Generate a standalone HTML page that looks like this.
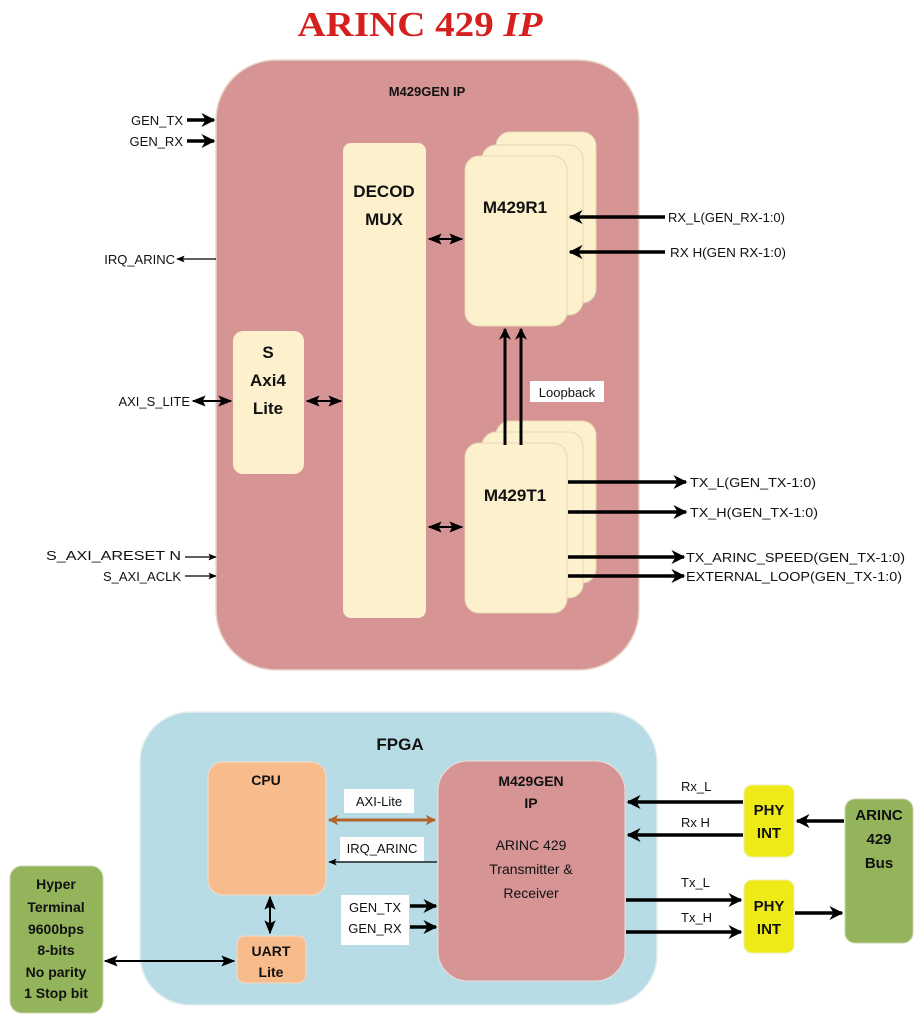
<!DOCTYPE html>
<html><head><meta charset="utf-8"><style>
html,body{margin:0;padding:0;background:#fff;width:924px;height:1024px;overflow:hidden}
svg{display:block}
text{font-family:"Liberation Sans",sans-serif;fill:#111}
.b{font-weight:bold}
</style></head><body>
<svg width="924" height="1024" viewBox="0 0 924 1024" xmlns="http://www.w3.org/2000/svg">
<defs>
<marker id="ah" viewBox="0 0 10 10" refX="9" refY="5" markerWidth="4" markerHeight="4" orient="auto-start-reverse"><path d="M0,0 L10,5 L0,10 L3,5z" fill="#000"/></marker>
<marker id="ahs" viewBox="0 0 10 10" refX="9" refY="5" markerWidth="7" markerHeight="7" orient="auto-start-reverse"><path d="M0,1 L10,5 L0,9 L2,5z" fill="#000"/></marker>
<marker id="aho" viewBox="0 0 10 10" refX="9" refY="5" markerWidth="3.5" markerHeight="3.5" orient="auto-start-reverse"><path d="M0,0 L10,5 L0,10 L3,5z" fill="#b0622a"/></marker>
</defs>

<text x="420" y="36" text-anchor="middle" style="font-family:'Liberation Serif',serif;font-weight:bold;font-size:35px;fill:#d61f1f" textLength="245" lengthAdjust="spacingAndGlyphs">ARINC 429 <tspan font-style="italic">IP</tspan></text>

<!-- top pink box -->
<rect x="216" y="60" width="423" height="610" rx="60" fill="#d69494" stroke="#e8d8c8" stroke-width="1.5"/>
<text x="427" y="96" class="b" font-size="13" text-anchor="middle">M429GEN  IP</text>

<rect x="343" y="143" width="83" height="475" rx="8" fill="#fdf0cd"/>
<text x="384" y="197" class="b" font-size="17" text-anchor="middle">DECOD</text>
<text x="384" y="225" class="b" font-size="17" text-anchor="middle">MUX</text>

<rect x="496" y="132" width="100" height="171" rx="14" fill="#fdf0cd" stroke="#e6d8b5"/>
<rect x="482" y="145" width="101" height="170" rx="14" fill="#fdf0cd" stroke="#e6d8b5"/>
<rect x="465" y="156" width="102" height="170" rx="14" fill="#fdf0cd" stroke="#e6d8b5"/>
<text x="515" y="213" class="b" font-size="17" text-anchor="middle">M429R1</text>

<rect x="496" y="421" width="100" height="162" rx="14" fill="#fdf0cd" stroke="#e6d8b5"/>
<rect x="482" y="432" width="101" height="166" rx="14" fill="#fdf0cd" stroke="#e6d8b5"/>
<rect x="465" y="443" width="102" height="170" rx="14" fill="#fdf0cd" stroke="#e6d8b5"/>
<text x="515" y="501" class="b" font-size="17" text-anchor="middle">M429T1</text>

<rect x="233" y="331" width="71" height="143" rx="10" fill="#fdf0cd"/>
<text x="268" y="358" class="b" font-size="17" text-anchor="middle">S</text>
<text x="268" y="386" class="b" font-size="17" text-anchor="middle">Axi4</text>
<text x="268" y="414" class="b" font-size="17" text-anchor="middle">Lite</text>

<!-- loopback -->
<line x1="505" y1="445" x2="505" y2="329" stroke="#000" stroke-width="3" marker-end="url(#ah)"/>
<line x1="521" y1="445" x2="521" y2="329" stroke="#000" stroke-width="3" marker-end="url(#ah)"/>
<rect x="530" y="381" width="74" height="21" fill="#fff"/>
<text x="567" y="397" font-size="13" text-anchor="middle">Loopback</text>

<!-- internal bidir -->
<g stroke="#000" stroke-width="2" fill="none">
<line x1="429" y1="239" x2="462" y2="239" marker-start="url(#ahs)" marker-end="url(#ahs)"/>
<line x1="429" y1="527" x2="462" y2="527" marker-start="url(#ahs)" marker-end="url(#ahs)"/>
<line x1="307" y1="401" x2="341" y2="401" marker-start="url(#ahs)" marker-end="url(#ahs)"/>
<line x1="193" y1="401" x2="231" y2="401" marker-start="url(#ahs)" marker-end="url(#ahs)"/>
<line x1="216" y1="259" x2="177" y2="259" stroke-width="1.2" marker-end="url(#ahs)"/>
<line x1="185" y1="557" x2="216" y2="557" stroke-width="1.2" marker-end="url(#ahs)"/>
<line x1="185" y1="576" x2="216" y2="576" stroke-width="1.2" marker-end="url(#ahs)"/>
</g>
<g stroke="#000" stroke-width="3.5" fill="none">
<line x1="187" y1="120" x2="214" y2="120" marker-end="url(#ah)"/>
<line x1="187" y1="141" x2="214" y2="141" marker-end="url(#ah)"/>
<line x1="665" y1="217" x2="570" y2="217" marker-end="url(#ah)"/>
<line x1="665" y1="252" x2="570" y2="252" marker-end="url(#ah)"/>
<line x1="568" y1="482" x2="686" y2="482" marker-end="url(#ah)"/>
<line x1="568" y1="512" x2="686" y2="512" marker-end="url(#ah)"/>
<line x1="568" y1="557" x2="684" y2="557" marker-end="url(#ah)"/>
<line x1="568" y1="576" x2="684" y2="576" marker-end="url(#ah)"/>
</g>

<g font-size="13">
<text x="183" y="125" text-anchor="end">GEN_TX</text>
<text x="183" y="146" text-anchor="end">GEN_RX</text>
<text x="175" y="264" text-anchor="end">IRQ_ARINC</text>
<text x="190" y="406" text-anchor="end">AXI_S_LITE</text>
<text x="181" y="560" text-anchor="end" textLength="135" lengthAdjust="spacingAndGlyphs">S_AXI_ARESET N</text>
<text x="181" y="581" text-anchor="end">S_AXI_ACLK</text>
<text x="668" y="222" textLength="117" lengthAdjust="spacingAndGlyphs">RX_L(GEN_RX-1:0)</text>
<text x="670" y="257" textLength="116" lengthAdjust="spacingAndGlyphs">RX  H(GEN  RX-1:0)</text>
<text x="690" y="487" textLength="126" lengthAdjust="spacingAndGlyphs">TX_L(GEN_TX-1:0)</text>
<text x="690" y="517" textLength="128" lengthAdjust="spacingAndGlyphs">TX_H(GEN_TX-1:0)</text>
<text x="686" y="562" textLength="219" lengthAdjust="spacingAndGlyphs">TX_ARINC_SPEED(GEN_TX-1:0)</text>
<text x="686" y="581" textLength="216" lengthAdjust="spacingAndGlyphs">EXTERNAL_LOOP(GEN_TX-1:0)</text>
</g>

<!-- bottom -->
<rect x="140" y="712" width="517" height="293" rx="50" fill="#b7dce6" stroke="#e4eef0" stroke-width="1.5"/>
<text x="400" y="750" class="b" font-size="17" text-anchor="middle">FPGA</text>

<rect x="208" y="762" width="118" height="133" rx="15" fill="#f7bb8c" stroke="#f3dccb"/>
<text x="266" y="785" class="b" font-size="14" text-anchor="middle">CPU</text>

<rect x="438" y="761" width="187" height="220" rx="30" fill="#d69494" stroke="#eedede"/>
<g font-size="14" text-anchor="middle">
<text x="531" y="786" class="b">M429GEN</text>
<text x="531" y="808" class="b">IP</text>
<text x="531" y="850">ARINC 429</text>
<text x="531" y="874">Transmitter &amp;</text>
<text x="531" y="898">Receiver</text>
</g>

<rect x="344" y="789" width="70" height="24" fill="#fff"/>
<text x="379" y="806" font-size="13" text-anchor="middle">AXI-Lite</text>
<line x1="329" y1="820" x2="435" y2="820" stroke="#b0622a" stroke-width="3" marker-start="url(#aho)" marker-end="url(#aho)"/>
<rect x="340" y="837" width="84" height="24" fill="#fff"/>
<text x="382" y="853" font-size="13" text-anchor="middle">IRQ_ARINC</text>
<line x1="437" y1="862" x2="329" y2="862" stroke="#000" stroke-width="1.2" marker-end="url(#ahs)"/>
<rect x="341" y="895" width="68" height="50" fill="#fff"/>
<text x="375" y="912" font-size="13" text-anchor="middle">GEN_TX</text>
<text x="375" y="933" font-size="13" text-anchor="middle">GEN_RX</text>
<line x1="410" y1="906" x2="436" y2="906" stroke="#000" stroke-width="3.5" marker-end="url(#ah)"/>
<line x1="410" y1="927" x2="436" y2="927" stroke="#000" stroke-width="3.5" marker-end="url(#ah)"/>

<rect x="237" y="936" width="69" height="47" rx="8" fill="#f7bb8c" stroke="#f3dccb"/>
<text x="271" y="956" class="b" font-size="14" text-anchor="middle">UART</text>
<text x="271" y="977" class="b" font-size="14" text-anchor="middle">Lite</text>
<line x1="270" y1="897" x2="270" y2="933" stroke="#000" stroke-width="2" marker-start="url(#ahs)" marker-end="url(#ahs)"/>
<line x1="105" y1="961" x2="234" y2="961" stroke="#000" stroke-width="2" marker-start="url(#ahs)" marker-end="url(#ahs)"/>

<rect x="10" y="866" width="93" height="147" rx="12" fill="#94b45c" stroke="#c8d6b0"/>
<g class="b" font-size="14" text-anchor="middle">
<text x="56" y="889" class="b">Hyper</text>
<text x="56" y="912" class="b">Terminal</text>
<text x="56" y="934" class="b">9600bps</text>
<text x="56" y="955" class="b">8-bits</text>
<text x="56" y="977" class="b">No parity</text>
<text x="56" y="998" class="b">1 Stop bit</text>
</g>

<rect x="744" y="785" width="50" height="72" rx="8" fill="#eeea18" stroke="#f0eeb0"/>
<text x="769" y="815" class="b" font-size="15" text-anchor="middle">PHY</text>
<text x="769" y="838" class="b" font-size="15" text-anchor="middle">INT</text>
<rect x="744" y="880" width="50" height="73" rx="8" fill="#eeea18" stroke="#f0eeb0"/>
<text x="769" y="911" class="b" font-size="15" text-anchor="middle">PHY</text>
<text x="769" y="934" class="b" font-size="15" text-anchor="middle">INT</text>

<rect x="845" y="799" width="68" height="144" rx="10" fill="#94b45c" stroke="#c8d6b0"/>
<text x="879" y="820" class="b" font-size="15" text-anchor="middle">ARINC</text>
<text x="879" y="844" class="b" font-size="15" text-anchor="middle">429</text>
<text x="879" y="868" class="b" font-size="15" text-anchor="middle">Bus</text>

<g stroke="#000" stroke-width="3.5">
<line x1="743" y1="802" x2="628" y2="802" marker-end="url(#ah)"/>
<line x1="743" y1="835" x2="628" y2="835" marker-end="url(#ah)"/>
<line x1="844" y1="821" x2="797" y2="821" marker-end="url(#ah)"/>
<line x1="626" y1="900" x2="741" y2="900" marker-end="url(#ah)"/>
<line x1="626" y1="932" x2="741" y2="932" marker-end="url(#ah)"/>
<line x1="795" y1="913" x2="842" y2="913" marker-end="url(#ah)"/>
</g>
<g font-size="13">
<text x="681" y="791">Rx_L</text>
<text x="681" y="827">Rx  H</text>
<text x="681" y="887">Tx_L</text>
<text x="681" y="922">Tx_H</text>
</g>
</svg>
</body></html>
